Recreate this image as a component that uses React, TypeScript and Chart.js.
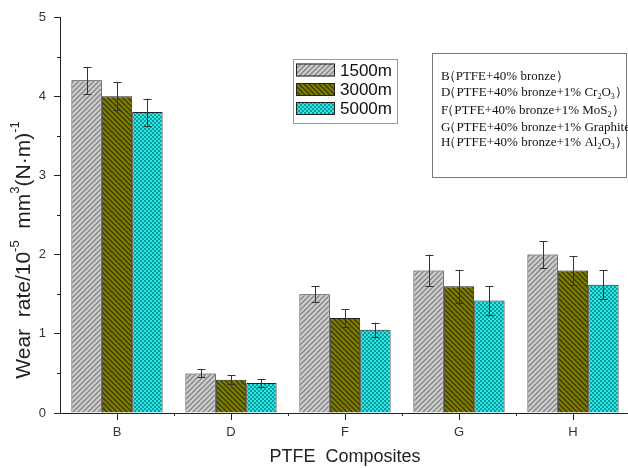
import React, { useEffect, useRef } from "react";
import { Chart, registerables } from "chart.js";

Chart.register(...registerables);

const categories = ["B", "D", "F", "G", "H"];
const seriesLabels = ["1500m", "3000m", "5000m"];
const wear1500 = [4.2, 0.5, 1.5, 1.8, 2.0];
const wear3000 = [4.0, 0.42, 1.2, 1.6, 1.8];
const wear5000 = [3.8, 0.38, 1.05, 1.42, 1.62];
const err1500 = [0.17, 0.05, 0.1, 0.2, 0.17];
const err3000 = [0.18, 0.06, 0.11, 0.21, 0.18];
const err5000 = [0.17, 0.05, 0.09, 0.18, 0.18];
const yTicks = [0, 1, 2, 3, 4, 5];
const yMinorTicks = [0.5, 1.5, 2.5, 3.5, 4.5];
const xTitle = "PTFE  Composites";
// [text, kind] where kind: n normal, sup superscript, sub subscript, p punctuation (tight)
const yTitle: [string, string][] = [
  ["Wear  rate/10", "n"],
  ["-5", "sup"],
  ["  mm", "n"],
  ["3", "sup"],
  ["(N·m)", "n"],
  ["-1", "sup"],
];
const notes: [string, string][][] = [
  [["B", "n"], ["（", "p"], ["PTFE+40% bronze", "n"], ["）", "p"]],
  [["D", "n"], ["（", "p"], ["PTFE+40% bronze+1% Cr", "n"], ["2", "sub"], ["O", "n"], ["3", "sub"], ["）", "p"]],
  [["F", "n"], ["（", "p"], ["PTFE+40% bronze+1% MoS", "n"], ["2", "sub"], ["）", "p"]],
  [["G", "n"], ["（", "p"], ["PTFE+40% bronze+1% Graphite", "n"], ["）", "p"]],
  [["H", "n"], ["（", "p"], ["PTFE+40% bronze+1% Al", "n"], ["2", "sub"], ["O", "n"], ["3", "sub"], ["）", "p"]],
];

const SANS = '"Liberation Sans", Arial, sans-serif';
const SERIF = '"Liberation Serif", "Times New Roman", serif';

function hatch(base: string, line: string, dir: number, s: number, lw: number) {
  const c = document.createElement("canvas");
  c.width = s;
  c.height = s;
  const g = c.getContext("2d")!;
  g.fillStyle = base;
  g.fillRect(0, 0, s, s);
  g.strokeStyle = line;
  g.lineWidth = lw;
  g.beginPath();
  if (dir > 0) {
    g.moveTo(-1, s + 1); g.lineTo(s + 1, -1);
    g.moveTo(-1, 1); g.lineTo(1, -1);
    g.moveTo(s - 1, s + 1); g.lineTo(s + 1, s - 1);
  } else {
    g.moveTo(-1, -1); g.lineTo(s + 1, s + 1);
    g.moveTo(s - 1, -1); g.lineTo(s + 1, 1);
    g.moveTo(-1, s - 1); g.lineTo(1, s + 1);
  }
  g.stroke();
  return g.createPattern(c, "repeat")!;
}

function dots(base: string, dot: string) {
  const c = document.createElement("canvas");
  c.width = 4;
  c.height = 4;
  const g = c.getContext("2d")!;
  g.fillStyle = base;
  g.fillRect(0, 0, 4, 4);
  g.fillStyle = dot;
  g.fillRect(0, 0, 2, 2);
  g.fillRect(2, 2, 2, 2);
  return g.createPattern(c, "repeat")!;
}

function drawRich(ctx: CanvasRenderingContext2D, segs: [string, string][], x: number, y: number, size: number, family: string, measureOnly = false) {
  let cx = x;
  for (const [t, k] of segs) {
    const fs = k === "n" || k === "p" ? size : Math.round(size * 0.62);
    ctx.font = `${fs}px ${family}`;
    const dy = k === "sup" ? -size * 0.42 : k === "sub" ? size * 0.3 : 0;
    if (k === "p") {
      const m = ctx.measureText(t);
      const inkStart = -m.actualBoundingBoxLeft;
      const inkEnd = m.actualBoundingBoxRight;
      if (!measureOnly) ctx.fillText(t, cx + 1 - inkStart, y);
      cx += inkEnd - inkStart + 2;
      continue;
    }
    if (!measureOnly) ctx.fillText(t, cx, y + dy);
    cx += ctx.measureText(t).width;
  }
  return cx - x;
}

export default function App() {
  const ref = useRef<HTMLCanvasElement>(null);
  useEffect(() => {
    const pat1 = hatch("#cfcfcf", "#858585", 1, 5, 1.4);
    const pat2 = hatch("#808000", "#3a3a00", -1, 5, 1.4);
    const pat3 = dots("#2ee6e6", "#0a9c9c");
    const pats = [pat1, pat2, pat3];
    const errs = [err1500, err3000, err5000];

    const extras = {
      id: "extras",
      afterDatasetsDraw(chart: any) {
        const ctx = chart.ctx as CanvasRenderingContext2D;
        const y = chart.scales.y;
        ctx.save();
        ctx.strokeStyle = "#333";
        ctx.lineWidth = 1;
        chart.data.datasets.forEach((ds: any, i: number) => {
          const meta = chart.getDatasetMeta(i);
          meta.data.forEach((bar: any, j: number) => {
            const v = ds.data[j];
            const e = errs[i][j];
            const x = Math.round(bar.x) + 0.5;
            const yt = y.getPixelForValue(v + e);
            const yb = y.getPixelForValue(v - e);
            ctx.beginPath();
            ctx.moveTo(x, yt); ctx.lineTo(x, yb);
            ctx.moveTo(x - 4, Math.round(yt) + 0.5); ctx.lineTo(x + 4, Math.round(yt) + 0.5);
            ctx.moveTo(x - 4, Math.round(yb) + 0.5); ctx.lineTo(x + 4, Math.round(yb) + 0.5);
            ctx.stroke();
          });
        });
        ctx.restore();
      },
      afterDraw(chart: any) {
        const ctx = chart.ctx as CanvasRenderingContext2D;
        const xs = chart.scales.x;
        const ys = chart.scales.y;
        const area = chart.chartArea;
        ctx.save();
        // minor ticks
        ctx.strokeStyle = "#222";
        ctx.lineWidth = 1;
        ctx.beginPath();
        yMinorTicks.forEach((v) => {
          const py = Math.round(ys.getPixelForValue(v)) + 0.5;
          ctx.moveTo(area.left - 3, py); ctx.lineTo(area.left, py);
        });
        for (let i = 0; i < categories.length; i++) {
          const px = Math.round((xs.getPixelForValue(i) + xs.getPixelForValue(i + 1)) / 2) + 0.5;
          ctx.moveTo(px, area.bottom); ctx.lineTo(px, area.bottom + 3);
        }
        ctx.stroke();

        // y title
        ctx.fillStyle = "#222";
        ctx.textBaseline = "middle";
        ctx.textAlign = "left";
        const w = drawRich(ctx, yTitle, 0, 0, 21, SANS, true);
        ctx.translate(24, 250);
        ctx.rotate(-Math.PI / 2);
        drawRich(ctx, yTitle, -w / 2, 0, 21, SANS);
        ctx.setTransform(1, 0, 0, 1, 0, 0);

        // legend
        ctx.strokeStyle = "#999";
        ctx.strokeRect(293.5, 59.5, 104, 64);
        const rows = [70, 89.5, 108.5];
        chart.data.datasets.forEach((ds: any, i: number) => {
          ctx.fillStyle = pats[i];
          ctx.fillRect(296, rows[i] - 6.5, 39, 13);
          ctx.strokeStyle = "#222";
          ctx.strokeRect(296.5, rows[i] - 6, 38, 12);
          ctx.fillStyle = "#111";
          ctx.font = `17px ${SANS}`;
          ctx.fillText(ds.label, 340, rows[i] + 1);
        });

        // notes box
        ctx.strokeStyle = "#777";
        ctx.strokeRect(432.5, 53.5, 194, 124);
        ctx.fillStyle = "#111";
        const ny = [77, 93, 111, 128, 143];
        notes.forEach((segs, i) => {
          drawRich(ctx, segs, 441, ny[i], 13, SERIF);
        });
        ctx.restore();
      },
    };

    const chart = new Chart(ref.current!, {
      type: "bar",
      data: {
        labels: categories,
        datasets: [
          { label: seriesLabels[0], data: wear1500, backgroundColor: pat1 as any },
          { label: seriesLabels[1], data: wear3000, backgroundColor: pat2 as any },
          { label: seriesLabels[2], data: wear5000, backgroundColor: pat3 as any },
        ].map((d) => ({ ...d, borderColor: "#222", borderWidth: 1, borderSkipped: "bottom" as const, categoryPercentage: 0.8, barPercentage: 1.0 })),
      },
      options: {
        animation: false,
        responsive: false,
        maintainAspectRatio: false,
        layout: { padding: { top: 17, left: 0, right: 0, bottom: 0 }, autoPadding: false } as any,
        plugins: { legend: { display: false }, tooltip: { enabled: false } },
        scales: {
          x: {
            offset: true,
            grid: { display: true, offset: false, drawOnChartArea: false, drawTicks: true, tickLength: 7, color: "#222" },
            border: { display: true, color: "#222", width: 1 },
            ticks: { color: "#333", font: { family: SANS, size: 13 }, padding: 5 },
            title: { display: true, text: xTitle, color: "#222", font: { family: SANS, size: 18 }, padding: { top: 0, bottom: 0 } },
            afterFit: (s: any) => { s.height = 55; },
          },
          y: {
            min: 0,
            max: 5,
            afterBuildTicks: (s: any) => { s.ticks = yTicks.map((v) => ({ value: v })); },
            grid: { display: true, drawOnChartArea: false, drawTicks: true, tickLength: 6, color: "#222" },
            border: { display: true, color: "#222", width: 1 },
            ticks: { color: "#333", font: { family: SANS, size: 13 }, padding: 8 },
            afterFit: (s: any) => { s.width = 60; },
          },
        },
      },
      plugins: [extras],
    });
    return () => chart.destroy();
  }, []);

  return (
    <div style={{ position: "fixed", left: 0, top: 0, width: 628, height: 468, overflow: "hidden", background: "#fff" }}>
      <canvas ref={ref} width={630} height={468} style={{ display: "block" }} />
    </div>
  );
}
